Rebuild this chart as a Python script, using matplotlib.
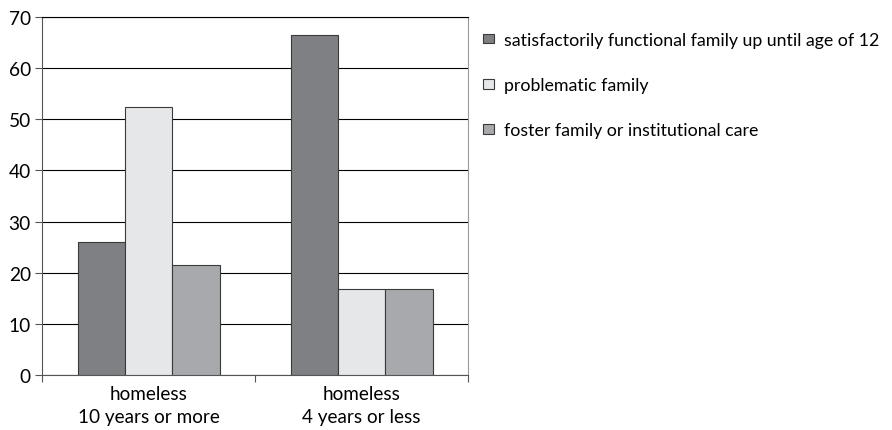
import matplotlib.pyplot as plt
import numpy as np

plt.rcParams["font.family"] = ["Lato", "DejaVu Sans"]

groups = ["homeless\n10 years or more", "homeless\n4 years or less"]
series = [
    "satisfactorily functional family up until age of 12",
    "problematic family",
    "foster family or institutional care",
]
functional = [26.0, 66.4]
problematic = [52.4, 16.7]
foster = [21.4, 16.7]
colors = ["#7f8084", "#e6e7e8", "#a8a9ac"]

fig = plt.figure(figsize=(8.92, 4.31), dpi=100)
ax = fig.add_axes([0.047, 0.128, 0.478, 0.830])

centers = np.array([0.5, 1.5])
width = 0.222
handles = []
for i, (vals, col) in enumerate(zip([functional, problematic, foster], colors)):
    b = ax.bar(centers + (i - 1) * width, vals, width, color=col,
               edgecolor="#3a3a3a", linewidth=0.8, zorder=3, label=series[i])
    handles.append(b)

ax.set_xlim(0, 2)
ax.set_ylim(0, 70)
ax.set_yticks(range(0, 71, 10))
ax.yaxis.grid(True, color="black", linewidth=0.8, zorder=0)
ax.set_axisbelow(True)

# category labels sit between the tick marks
ax.set_xticks([0, 1, 2])
ax.set_xticklabels([])
ax.set_xticks(centers, minor=True)
ax.set_xticklabels(groups, minor=True, fontsize=13.6, linespacing=1.45)
ax.tick_params(axis="x", which="minor", length=0, pad=7)
ax.tick_params(axis="x", which="major", length=5, color="#555555", direction="out")
ax.tick_params(axis="y", length=5, color="#555555", labelsize=13.8, pad=3)

for side in ["left", "bottom"]:
    ax.spines[side].set_color("#555555")
for side in ["top", "right"]:
    ax.spines[side].set_color("#999999")
    ax.spines[side].set_linewidth(0.8)
ax.spines["top"].set_color("black")

fig.legend(handles=handles, labels=series, loc="upper left",
           bbox_to_anchor=(0.533, 0.94), frameon=False, fontsize=12.8,
           borderaxespad=0, borderpad=0.4,
           handlelength=0.62, handleheight=0.45, handletextpad=0.6,
           labelspacing=1.64)

fig.savefig("out.png", dpi=100)
